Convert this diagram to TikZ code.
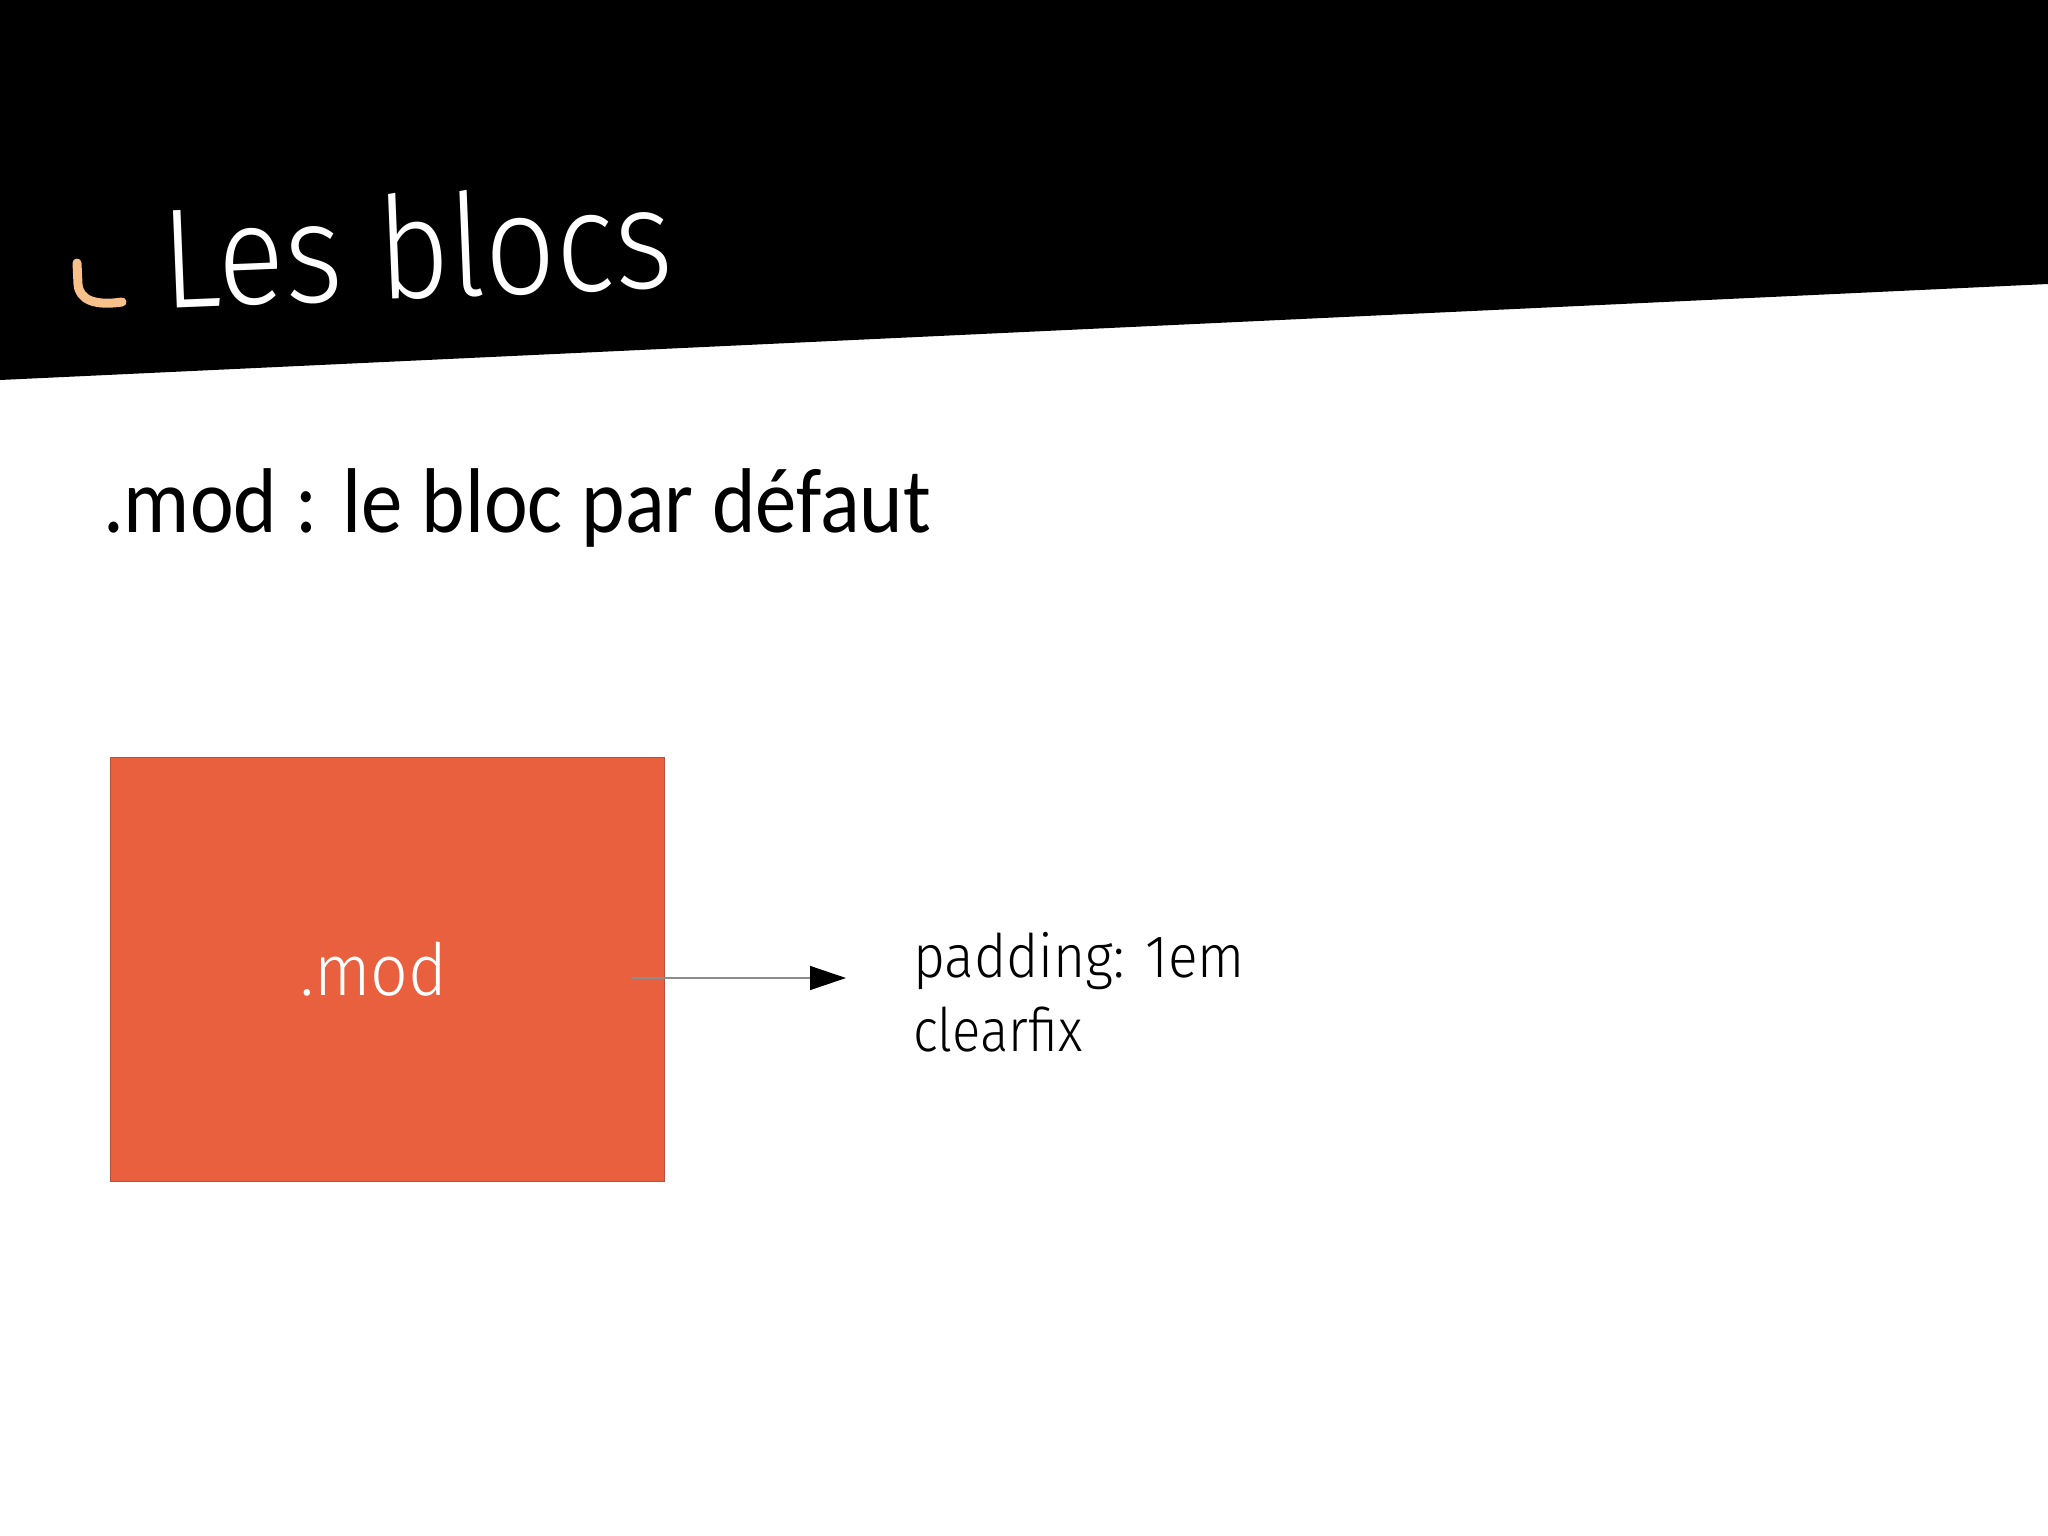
\documentclass[tikz,border=0pt]{standalone}
\usepackage{graphicx}
\usepackage{fontspec}
\setmainfont{Carlito}
\newfontfamily\lightfont{Fira Sans Light}
\usetikzlibrary{arrows.meta}
\definecolor{modorange}{HTML}{E9603F}
\definecolor{modedge}{HTML}{B8503A}
\definecolor{hookc}{HTML}{F8C08A}
\tikzset{
  txt/.style={inner sep=0pt, outer sep=0pt},
  lighttxt/.style={txt, font={\lightfont\fontsize{60}{74}\selectfont}},
  conn/.style={draw=black!45, line width=1.5pt, -{Triangle[length=36pt,width=24pt,color=black,fill=black]}}
}
\begin{document}
\begin{tikzpicture}[x=1pt,y=-1pt]
\useasboundingbox (0,0) rectangle (2048,1536);
\fill[white] (0,0) rectangle (2048,1536);
% header band
\fill[black] (0,0) -- (2048,0) -- (2048,284) -- (0,380) -- cycle;
% hook
\draw[hookc, line width=9pt, line cap=round] (77,263) -- (78,284) .. controls (79,300) and (95,306) .. (122,302);
% title
\node[txt, anchor=base west, rotate=2.3, text=white] (title) at (163,308)
  {\lightfont\fontsize{142}{170}\selectfont\scalebox{0.88}[1]{Les blocs}};
% subtitle
\node[txt, anchor=base west] (sub) at (103,532)
  {\fontsize{92}{110}\selectfont\scalebox{0.9}[1]{.mod : le bloc par défaut}};
% box
\node[draw=modedge, fill=modorange, line width=1pt, minimum width=554pt, minimum height=424pt, anchor=north west, inner sep=0pt] (box) at (110,757) {};
\node[txt, anchor=base, text=white] (modtxt) at (374,995)
  {\lightfont\fontsize{72}{86}\selectfont\scalebox{0.92}[1]{.mod}};
% right text
\node[lighttxt, anchor=base west] (pad) at (913,977) {\scalebox{0.92}[1]{padding: 1em}};
\node[lighttxt, anchor=base west] (clr) at (913,1051) {\scalebox{0.88}[1]{clearfix}};
\coordinate (s) at (631,978);
\coordinate (e) at (846,978);
\draw[conn] (s) -- (e);
\end{tikzpicture}
\end{document}
